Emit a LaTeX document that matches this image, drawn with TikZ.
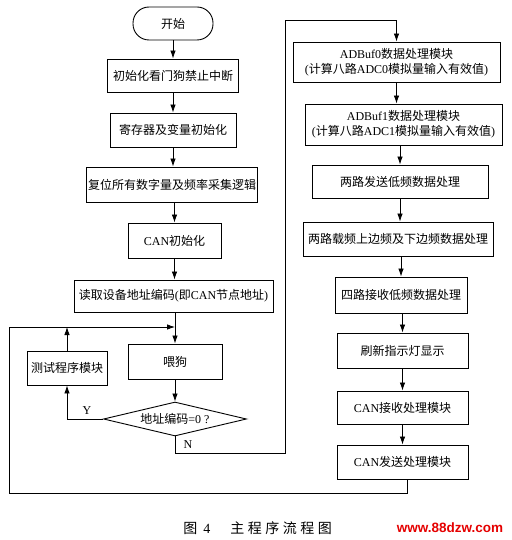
\documentclass[tikz,border=0pt]{standalone}
\usepackage{fontspec}
\setmainfont{Liberation Serif}
\newfontfamily\cjk{Noto Sans CJK SC}
\newfontfamily\wmfont{Liberation Sans}
\newcommand\zh[1]{{\cjk #1}}
\usetikzlibrary{arrows.meta,shapes.geometric,calc}
\begin{document}
\begin{tikzpicture}[x=1pt,y=-1pt,
  box/.style={draw,line width=0.9pt,inner sep=1pt,align=center,font=\fontsize{12}{15}\selectfont},
  arr/.style={-{Latex[length=8pt,width=5.5pt]},line width=0.8pt},
  ln/.style={line width=0.8pt},
  lbl/.style={font=\fontsize{12}{14}\selectfont,inner sep=1pt}]
\useasboundingbox[fill=white] (0,0) rectangle (511,540);

% left column
\node[box,rounded corners=16pt,minimum width=80pt,minimum height=33pt] (start) at (173,23.5) {\zh{开始}};
\node[box,minimum width=131pt,minimum height=33pt] (n1) at (173,75.5) {\zh{初始化看门狗禁止中断}};
\node[box,minimum width=126pt,minimum height=34pt] (n2) at (173,130) {\zh{寄存器及变量初始化}};
\node[box,minimum width=171pt,minimum height=35pt] (n3) at (172,184.5) {\zh{复位所有数字量及频率采集逻辑}};
\node[box,minimum width=93pt,minimum height=35pt] (n4) at (174.5,240.5) {CAN\zh{初始化}};
\node[box,minimum width=199pt,minimum height=32pt] (n5) at (173.5,296) {\zh{读取设备地址编码}(\zh{即}CAN\zh{节点地址})};
\node[box,minimum width=94pt,minimum height=35pt] (n6) at (175,361.5) {\zh{喂狗}};
\node[box,shape=diamond,aspect=4.2,inner sep=0pt,minimum width=143pt,minimum height=34pt] (dia) at (175,419) {\zh{地址编码}=0 ?};
\node[box,minimum width=80pt,minimum height=34pt] (test) at (67,368) {\zh{测试程序模块}};
\coordinate (merge) at (175,327);

% right column
\node[box,minimum width=207pt,minimum height=40pt] (r1) at (396.5,62) {ADBuf0\zh{数据处理模块}\\(\zh{计算八路}ADC0\zh{模拟量输入有效值})};
\node[box,minimum width=197pt,minimum height=41pt] (r2) at (403.5,124.5) {ADBuf1\zh{数据处理模块}\\(\zh{计算八路}ADC1\zh{模拟量输入有效值})};
\node[box,minimum width=176pt,minimum height=33pt] (r3) at (400,181.5) {\zh{两路发送低频数据处理}};
\node[box,minimum width=190pt,minimum height=34pt] (r4) at (398,239) {\zh{两路载频上边频及下边频数据处理}};
\node[box,minimum width=132pt,minimum height=36pt] (r5) at (401,295) {\zh{四路接收低频数据处理}};
\node[box,minimum width=131pt,minimum height=35pt] (r6) at (402.5,350.5) {\zh{刷新指示灯显示}};
\node[box,minimum width=131pt,minimum height=33pt] (r7) at (402.5,407.5) {CAN\zh{接收处理模块}};
\node[box,minimum width=131pt,minimum height=34pt] (r8) at (402.5,462) {CAN\zh{发送处理模块}};

% left column arrows
\draw[arr] (start.south -| n1.north) -- (n1.north);
\draw[arr] (n1.south) -- (n1.south |- n2.north);
\draw[arr] (n2.south) -- (n2.south |- n3.north);
\draw[arr] (n3.south -| n4.north) -- (n4.north);
\draw[arr] (n4.south) -- (n4.south |- n5.north);
\draw[arr] (n5.south -| n6.north) -- (n6.north);
\draw[arr] (n6.south) -- (dia.north);

% Y branch
\coordinate (ycorner) at (67,419);
\draw[arr] (dia.west) -- (ycorner) -- (test.south);
\node[lbl] (ylab) at (87,411) {Y};
\coordinate (testup) at (67,327);
\draw[arr] (test.north) -- (testup);

% N branch
\coordinate (nb1) at (175,453);
\coordinate (nb2) at (285,453);
\coordinate (nb3) at (285,20);
\coordinate (nb4) at (396.5,20);
\draw[arr] (dia.south) -- (nb1) -- (nb2) -- (nb3) -- (nb4) -- (r1.north);
\node[lbl] (nlab) at (188,445) {N};

% right column arrows
\draw[arr] (r1.south) -- (r1.south |- r2.north);
\draw[arr] (r2.south -| r3.north) -- (r3.north);
\draw[arr] (r3.south) -- (r3.south |- r4.north);
\draw[arr] (r4.south -| r5.north) -- (r5.north);
\draw[arr] (r5.south -| r6.north) -- (r6.north);
\draw[arr] (r6.south) -- (r7.north);
\draw[arr] (r7.south) -- (r8.north);

% outer loop
\coordinate (lp0) at (407,479);
\coordinate (lp1) at (407,493);
\coordinate (lp2) at (9,493);
\coordinate (lp3) at (9,327);
\draw[arr] (lp0) -- (lp1) -- (lp2) -- (lp3) -- (merge);

% caption
\node[font=\fontsize{14}{16}\selectfont,inner sep=0pt] (cap) at (257.5,528)
  {\zh{图}\hspace{6pt}4\hspace{20pt}\zh{主\hspace{3.5pt}程\hspace{3.5pt}序\hspace{3.5pt}流\hspace{3.5pt}程\hspace{3.5pt}图}};
\node[font=\wmfont\bfseries\fontsize{13.5}{15}\selectfont,text=red!90!black,inner sep=0pt] (wm) at (450,528) {www.88dzw.com};
\end{tikzpicture}
\end{document}
